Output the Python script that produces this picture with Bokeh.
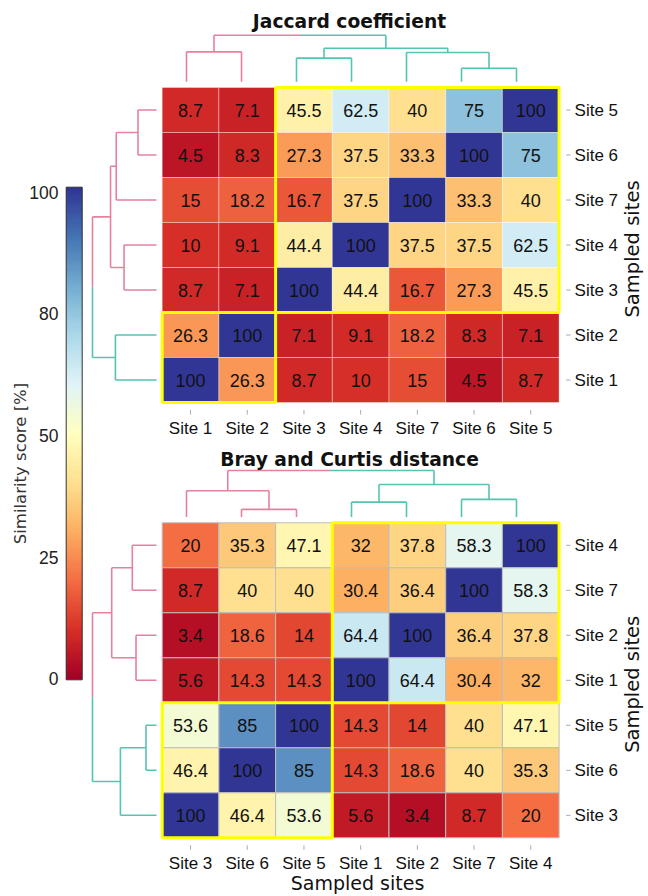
import numpy as np
from bokeh.plotting import figure
from bokeh.models import Range1d, ColumnDataSource, LinearColorMapper
from bokeh.transform import transform
from bokeh.core.properties import value
from bokeh.embed import file_html
from bokeh.resources import INLINE

# ---------------- data ----------------
sites = ["Site 1", "Site 2", "Site 3", "Site 4", "Site 5", "Site 6", "Site 7"]

# similarity matrices (%), rows/cols in the order of `sites`
jaccard = [
    [100, 26.3, 8.7, 10, 8.7, 4.5, 15],
    [26.3, 100, 7.1, 9.1, 7.1, 8.3, 18.2],
    [8.7, 7.1, 100, 44.4, 45.5, 27.3, 16.7],
    [10, 9.1, 44.4, 100, 62.5, 37.5, 37.5],
    [8.7, 7.1, 45.5, 62.5, 100, 75, 40],
    [4.5, 8.3, 27.3, 37.5, 75, 100, 33.3],
    [15, 18.2, 16.7, 37.5, 40, 33.3, 100],
]
bray = [
    [100, 64.4, 5.6, 32, 14.3, 14.3, 30.4],
    [64.4, 100, 3.4, 37.8, 14, 18.6, 36.4],
    [5.6, 3.4, 100, 20, 53.6, 46.4, 8.7],
    [32, 37.8, 20, 100, 47.1, 35.3, 58.3],
    [14.3, 14, 53.6, 47.1, 100, 85, 40],
    [14.3, 18.6, 46.4, 35.3, 85, 100, 40],
    [30.4, 36.4, 8.7, 58.3, 40, 40, 100],
]

# leaf order of the clustering (columns left->right; rows are shown bottom->top)
jac_order = ["Site 1", "Site 2", "Site 3", "Site 4", "Site 7", "Site 6", "Site 5"]
bray_order = ["Site 3", "Site 6", "Site 5", "Site 1", "Site 2", "Site 7", "Site 4"]

# hierarchical merges: child a, child b, relative merge height (root = 1)
jac_link_a = ["Site 1", "Site 3", "Site 6", "Site 7", "C2", "C1"]
jac_link_b = ["Site 2", "Site 4", "Site 5", "C3", "C4", "C5"]
jac_link_h = [0.642, 0.507, 0.289, 0.629, 0.718, 1.0]

bray_link_a = ["Site 6", "Site 3", "Site 1", "Site 7", "C3", "C2"]
bray_link_b = ["Site 5", "C1", "Site 2", "Site 4", "C4", "C5"]
bray_link_h = [0.164, 0.564, 0.320, 0.378, 0.700, 1.0]

cbar_ticks = [0, 25, 50, 75, 100]
cbar_labels = ["0", "25", "50", "80", "100"]

# ---------------- styling / layout ----------------
W, H = 648, 896
CW, CH = 56.7, 45.0
GX0 = 161.7
PINK, TEAL = "#e5809d", "#55c4b0"
BREWER = ["#a50026", "#d73027", "#f46d43", "#fdae61", "#fee090", "#ffffbf",
          "#e0f3f8", "#abd9e9", "#74add1", "#4575b4", "#313695"]


def hex_to_rgb(h):
    return [int(h[i:i + 2], 16) for i in (1, 3, 5)]


def build_palette(stops, n=256):
    rgb = np.array([hex_to_rgb(s) for s in stops], dtype=float)
    pos = np.linspace(0, 1, len(stops))
    t = np.linspace(0, 1, n)
    out = []
    for tt in t:
        c = [np.interp(tt, pos, rgb[:, k]) for k in range(3)]
        out.append("#%02x%02x%02x" % tuple(int(round(v)) for v in c))
    return out


palette = build_palette(BREWER)
mapper = LinearColorMapper(palette=palette, low=0, high=100)

p = figure(width=W, height=H, x_range=Range1d(0, W), y_range=Range1d(H, 0),
           output_backend="svg", toolbar_location=None, min_border=0,
           x_axis_location=None, y_axis_location=None)
p.grid.visible = False
p.outline_line_color = None
p.background_fill_color = "white"
p.border_fill_color = "white"

LABEL_FONT = value("Liberation Sans")
SPACED_FONT = value("DejaVu Sans")


def fmt(v):
    return ("%g" % v)


def dendro_lines(order_pos, link_a, link_b, link_h):
    """Return segments (pos0,h0,pos1,h1,color) in (position, height) space."""
    pos = dict(order_pos)
    hgt = {k: 0.0 for k in order_pos}
    leaves = {k: [k] for k in order_pos}
    for i, (a, b, h) in enumerate(zip(link_a, link_b, link_h)):
        name = "C%d" % (i + 1)
        pos[name] = (pos[a] + pos[b]) / 2.0
        hgt[name] = h
        leaves[name] = leaves[a] + leaves[b]
    root = "C%d" % len(link_a)
    ra, rb = link_a[-1], link_b[-1]
    if min(pos[l] for l in leaves[ra]) > min(pos[l] for l in leaves[rb]):
        ra, rb = rb, ra
    color = {}
    for l in leaves[ra]:
        color[l] = PINK
    for l in leaves[rb]:
        color[l] = TEAL
    segs = []
    for i, (a, b, h) in enumerate(zip(link_a, link_b, link_h)):
        name = "C%d" % (i + 1)
        if name == root:
            for ch in (ra, rb):
                c = color[leaves[ch][0]]
                segs.append((pos[ch], hgt[ch], pos[ch], h, c))
                segs.append((pos[ch], h, pos[name], h, c))
        else:
            c = color[leaves[a][0]]
            segs.append((pos[a], hgt[a], pos[a], h, c))
            segs.append((pos[b], hgt[b], pos[b], h, c))
            segs.append((pos[a], h, pos[b], h, c))
    return segs, leaves[ra], leaves[rb]


def panel(matrix, order, link_a, link_b, link_h, title, gy0, title_y, border_col, border_alpha):
    rows = list(reversed(order))  # top -> bottom
    idx = {s: i for i, s in enumerate(sites)}
    xs, ys, vs, ls = [], [], [], []
    for r, rs in enumerate(rows):
        for c, cs in enumerate(order):
            v = matrix[idx[rs]][idx[cs]]
            xs.append(GX0 + CW * (c + 0.5))
            ys.append(gy0 + CH * (r + 0.5))
            vs.append(v)
            ls.append(fmt(v))
    src = ColumnDataSource(dict(x=xs, y=ys, v=vs, lab=ls))
    p.rect(x="x", y="y", width=CW, height=CH, source=src,
           fill_color=transform("v", mapper), line_color=border_col,
           line_alpha=border_alpha, line_width=1)
    p.text(x="x", y="y", text="lab", source=src, text_align="center",
           text_baseline="middle", text_font=LABEL_FONT, text_font_size="18px",
           text_color="#111111")

    # column dendrogram (above)
    col_pos = {s: 186.0 + 55.0 * k for k, s in enumerate(order)}
    segs, ga, gb = dendro_lines(col_pos, link_a, link_b, link_h)
    base_y = gy0 - 5.8
    scale = 46.5
    p.segment(x0=[s[0] for s in segs], y0=[base_y - s[1] * scale for s in segs],
              x1=[s[2] for s in segs], y1=[base_y - s[3] * scale for s in segs],
              line_color=[s[4] for s in segs], line_width=1.6)

    # row dendrogram (left)
    row_pos = {s: gy0 + CH * (r + 0.5) for r, s in enumerate(rows)}
    segs, _, _ = dendro_lines(row_pos, link_a, link_b, link_h)
    base_x = 156.0
    scale = 64.0
    p.segment(x0=[base_x - s[1] * scale for s in segs], y0=[s[0] for s in segs],
              x1=[base_x - s[3] * scale for s in segs], y1=[s[2] for s in segs],
              line_color=[s[4] for s in segs], line_width=1.6)

    # cluster boxes
    for grp in (ga, gb):
        ci = [order.index(s) for s in grp]
        ri = [rows.index(s) for s in grp]
        p.quad(left=[GX0 + CW * min(ci)], right=[GX0 + CW * (max(ci) + 1)],
               top=[gy0 + CH * min(ri)], bottom=[gy0 + CH * (max(ri) + 1)],
               fill_color=None, line_color="#ffff00", line_width=3)

    gx1 = GX0 + CW * len(order)
    gy1 = gy0 + CH * len(rows)
    # bottom ticks + labels
    cx = [GX0 + CW * (c + 0.5) for c in range(len(order))]
    p.segment(x0=cx, y0=[gy1 + 7.5] * len(cx), x1=cx, y1=[gy1 + 12] * len(cx),
              line_color="#aaaaaa", line_width=1)
    p.text(x=cx, y=[gy1 + 26] * len(cx), text=order, text_align="center",
           text_baseline="middle", text_font=LABEL_FONT, text_font_size="17px",
           text_color="#111111")
    # right ticks + labels
    ry = [gy0 + CH * (r + 0.5) for r in range(len(rows))]
    p.segment(x0=[gx1 + 7] * len(ry), y0=ry, x1=[gx1 + 11.5] * len(ry), y1=ry,
              line_color="#aaaaaa", line_width=1)
    p.text(x=[gx1 + 15.5] * len(ry), y=ry, text=rows, text_align="left",
           text_baseline="middle", text_font=LABEL_FONT, text_font_size="17px",
           text_color="#111111")
    # right axis title
    p.text(x=[632], y=[(gy0 + gy1) / 2 + 4], text=["Sampled sites"], angle=np.pi / 2,
           text_align="center", text_baseline="middle", text_font=SPACED_FONT,
           text_font_size="19.5px", text_color="#111111")
    # panel title
    p.text(x=[349], y=[title_y], text=[title], text_align="center",
           text_baseline="middle", text_font=SPACED_FONT, text_font_size="18.7px",
           text_font_style="bold", text_color="#111111")
    return gy1


panel(jaccard, jac_order, jac_link_a, jac_link_b, jac_link_h,
      "Jaccard coefficient", 87.0, 20.7, "white", 0.35)
gy1 = panel(bray, bray_order, bray_link_a, bray_link_b, bray_link_h,
            "Bray and Curtis distance", 522.3, 459.0, "#bdbdbd", 1.0)

# bottom x axis title
p.text(x=[357], y=[882.5], text=["Sampled sites"], text_align="center",
       text_baseline="middle", text_font=SPACED_FONT, text_font_size="19px",
       text_color="#111111")

# ---------------- colour bar ----------------
CB_L, CB_R, CB_TOP, CB_BOT = 65.7, 81.7, 186.7, 679.3
n = 300
grad = np.linspace(0, 100, n)
step = (CB_BOT - CB_TOP) / n
cb_src = ColumnDataSource(dict(
    v=grad,
    b=[CB_BOT - i * step for i in range(n)],
    t=[CB_BOT - (i + 1.6) * step if i < n - 1 else CB_TOP for i in range(n)],
))
p.quad(left=CB_L, right=CB_R, top="t", bottom="b", source=cb_src,
       fill_color=transform("v", mapper), line_color=None)
p.quad(left=[CB_L], right=[CB_R], top=[CB_TOP], bottom=[CB_BOT],
       fill_color=None, line_color="#333333", line_width=1)
lab_bot, lab_len = 678.3, 486.6
p.text(x=[58] * len(cbar_ticks), y=[lab_bot - t / 100.0 * lab_len for t in cbar_ticks],
       text=cbar_labels, text_align="right", text_baseline="middle",
       text_font=LABEL_FONT, text_font_size="17.5px", text_color="#222222")
p.text(x=[20], y=[463], text=["Similarity score [%]"], angle=np.pi / 2,
       text_align="center", text_baseline="middle", text_font=SPACED_FONT,
       text_font_size="16.5px", text_color="#333333")

open("out.html", "w").write(file_html(p, INLINE))
